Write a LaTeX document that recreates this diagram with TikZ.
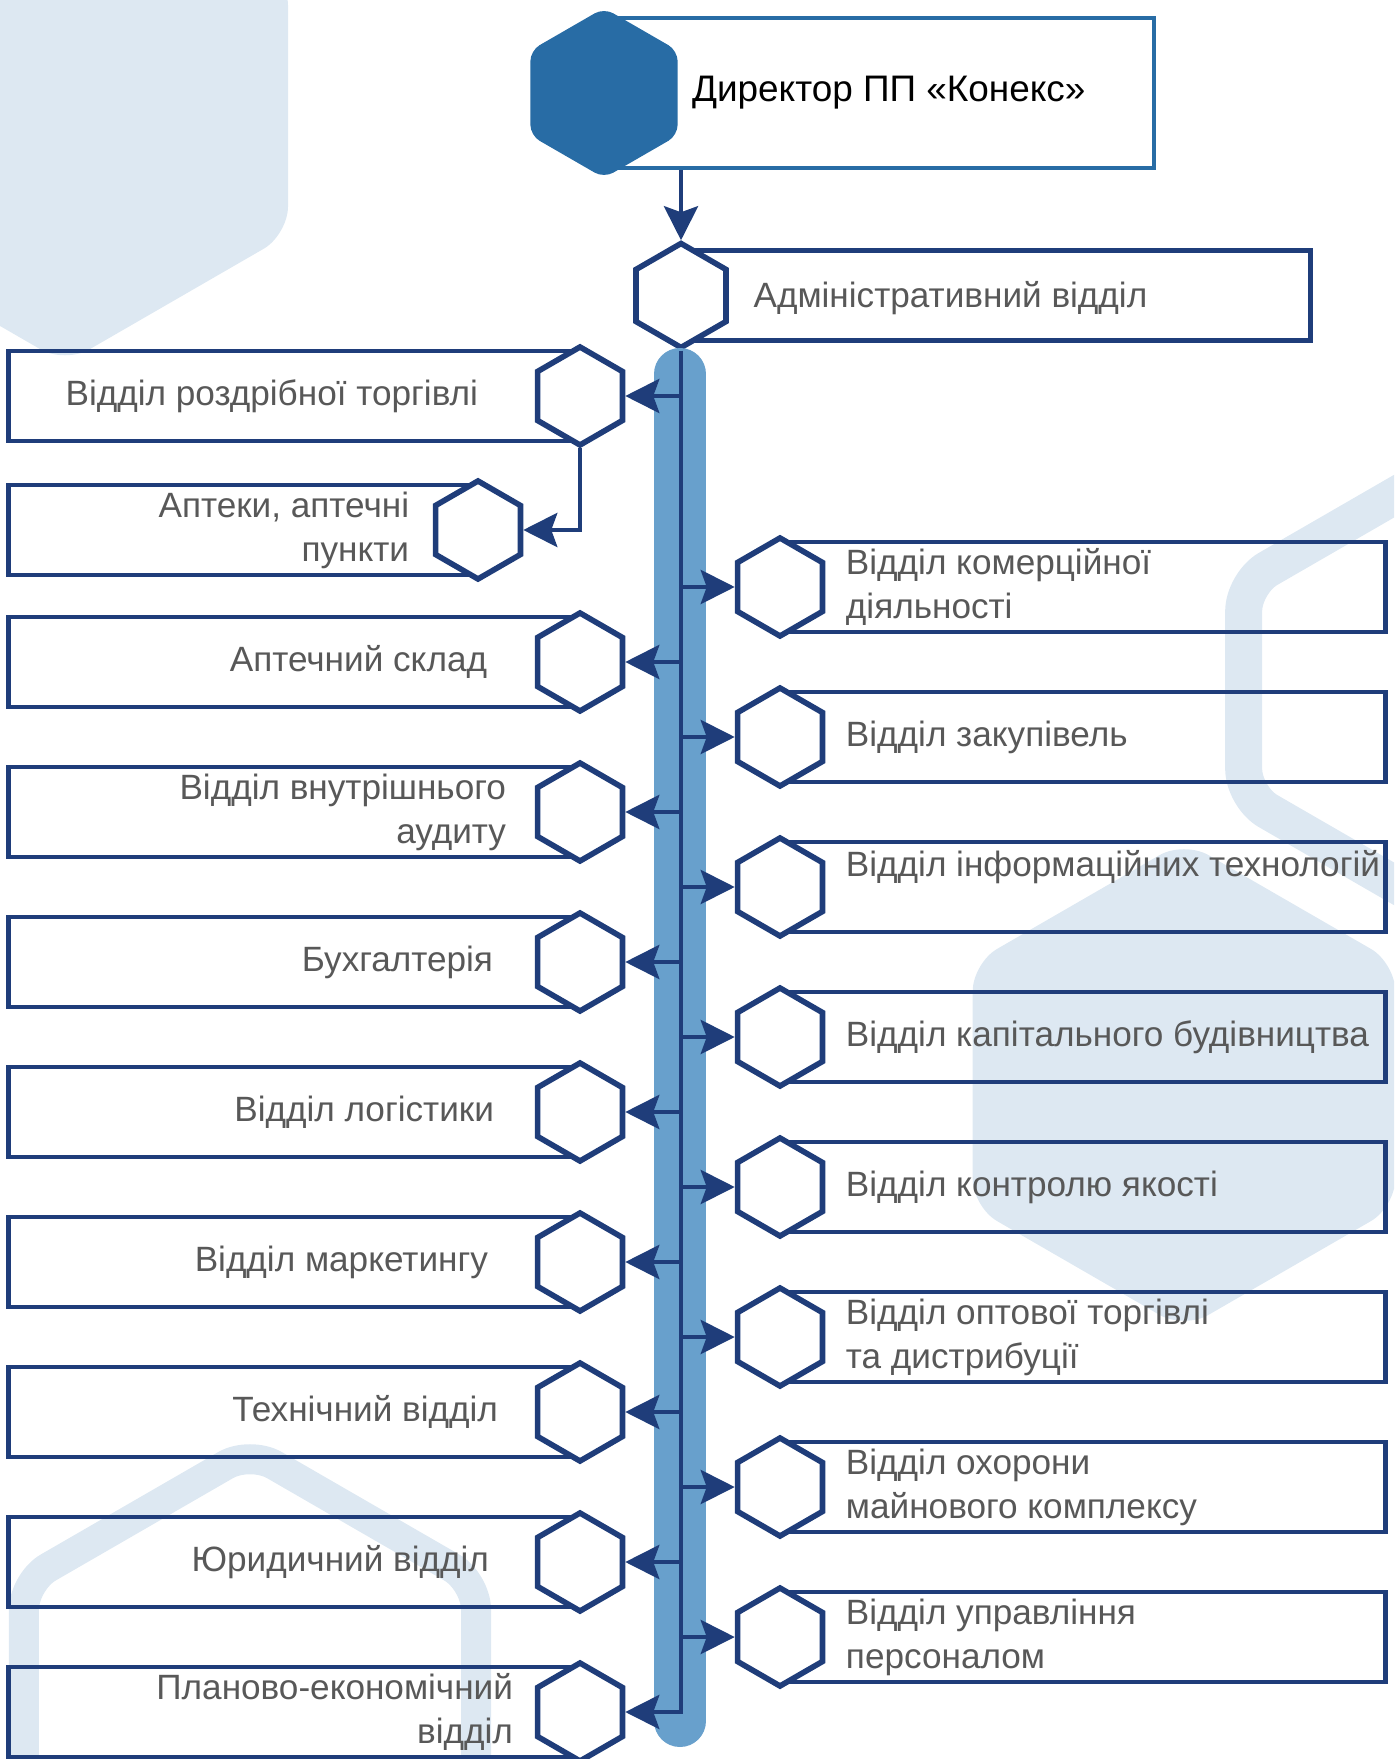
\documentclass[tikz,border=0pt]{standalone}
\usepackage{fontspec}
\setmainfont{Liberation Sans}
\usetikzlibrary{shapes.geometric,arrows.meta}

\definecolor{navy}{RGB}{31,61,122}
\definecolor{dirblue}{RGB}{40,108,165}
\definecolor{spineblue}{RGB}{104,160,204}
\definecolor{bgblue}{RGB}{221,232,242}
\definecolor{txtgray}{RGB}{88,88,88}

\tikzset{
  deptbox/.style={draw=navy, line width=1.4pt, minimum height=0.90cm, inner sep=0pt},
  hexa/.style={regular polygon, regular polygon sides=6, shape border rotate=30,
    draw=navy, fill=white, line width=1.6pt, minimum size=0.98cm, inner sep=0pt},
  bghex/.style={regular polygon, regular polygon sides=6, shape border rotate=30,
    inner sep=0pt, rounded corners=8pt},
  tolink/.style={navy, line width=1.3pt, -{Stealth[length=0.34cm,width=0.34cm,inset=0.06cm]}},
  deptext/.style={text=txtgray, inner sep=0pt, font=\fontsize{10}{12.5}\selectfont},
  ltext/.style={deptext, align=right},
  rtext/.style={deptext, align=left},
  spine/.style={spineblue, line width=0.52cm, line cap=round},
}

\begin{document}
\begin{tikzpicture}
    \useasboundingbox (0,0) rectangle (13.94,-17.59);
    \clip (0,0) rectangle (13.94,-17.59);

    % Background hexagons
    \node[bghex, fill=bgblue, minimum size=5.15cm] (bgtl) at (0.65,-1.06) {};
    \node[bghex, fill=bgblue, minimum size=4.88cm] (bgmid) at (11.84,-10.85) {};
    \node[bghex, draw=bgblue, line width=0.37cm, minimum size=4.28cm] (bgring) at (14.29,-6.90) {};
    \node[bghex, draw=bgblue, line width=0.30cm, minimum size=5.22cm] (bgarch) at (2.50,-17.12) {};

    % Director
    \node[draw=dirblue, line width=1.1pt, minimum width=5.49cm, minimum height=1.50cm,
      anchor=west, inner sep=0pt] (dir) at (6.03,-0.93) {};
    \node[bghex, fill=dirblue, minimum size=1.70cm, rounded corners=3pt] (dirh) at (6.04,-0.93) {};
    \node at (dirh.0) [right=0.13cm, inner sep=0pt, font=\fontsize{10.5}{13}\selectfont] (dirt)
      {Директор ПП «Конекс»};

    % Administrative department
    \node[deptbox, minimum width=6.27cm, anchor=west] (adm) at (6.81,-2.955) {};
    \node[hexa, minimum size=1.04cm] (admh) at (adm.west) {};
    \node at (admh.0) [right=0.24cm, yshift=-0.03cm, rtext] (admt) {Адміністративний відділ};
    \draw[tolink] (admh.90 |- dir.south) -- (admh.90);

    % Spine
    \draw[spine] (6.80,-3.74) -- (6.80,-17.21);

    % Left departments
    \node[deptbox, minimum width=5.69cm, anchor=east] (rt) at (5.80,-3.96) {};
    \node[hexa] (rth) at (rt.east) {};
    \node at (rth.180) [left=0.56cm, ltext] (rtt) {Відділ роздрібної торгівлі};

    \node[deptbox, minimum width=4.67cm, anchor=east] (apt) at (4.78,-5.30) {};
    \node[hexa] (apth) at (apt.east) {};
    \node at (apth.180) [left=0.23cm, ltext] (aptt) {Аптеки, аптечні\\пункти};

    \node[deptbox, minimum width=5.69cm, anchor=east] (skl) at (5.80,-6.62) {};
    \node[hexa] (sklh) at (skl.east) {};
    \node at (sklh.180) [left=0.47cm, ltext] (sklt) {Аптечний склад};

    \node[deptbox, minimum width=5.69cm, anchor=east] (aud) at (5.80,-8.12) {};
    \node[hexa] (audh) at (aud.east) {};
    \node at (audh.180) [left=0.28cm, ltext] (audt) {Відділ внутрішнього\\аудиту};

    \node[deptbox, minimum width=5.69cm, anchor=east] (buh) at (5.80,-9.62) {};
    \node[hexa] (buhh) at (buh.east) {};
    \node at (buhh.180) [left=0.41cm, ltext] (buht) {Бухгалтерія};

    \node[deptbox, minimum width=5.69cm, anchor=east] (log) at (5.80,-11.12) {};
    \node[hexa] (logh) at (log.east) {};
    \node at (logh.180) [left=0.40cm, ltext] (logt) {Відділ логістики};

    \node[deptbox, minimum width=5.69cm, anchor=east] (mkt) at (5.80,-12.62) {};
    \node[hexa] (mkth) at (mkt.east) {};
    \node at (mkth.180) [left=0.46cm, ltext] (mktt) {Відділ маркетингу};

    \node[deptbox, minimum width=5.69cm, anchor=east] (tech) at (5.80,-14.12) {};
    \node[hexa] (techh) at (tech.east) {};
    \node at (techh.180) [left=0.36cm, ltext] (techt) {Технічний відділ};

    \node[deptbox, minimum width=5.69cm, anchor=east] (yur) at (5.80,-15.62) {};
    \node[hexa] (yurh) at (yur.east) {};
    \node at (yurh.180) [left=0.45cm, ltext] (yurt) {Юридичний відділ};

    \node[deptbox, minimum width=5.69cm, anchor=east] (pe) at (5.80,-17.12) {};
    \node[hexa] (peh) at (pe.east) {};
    \node at (peh.180) [left=0.21cm, ltext] (pet) {Планово-економічний\\відділ};

    % Right departments
    \node[deptbox, minimum width=6.03cm, anchor=west] (com) at (7.80,-5.87) {};
    \node[hexa] (comh) at (com.west) {};
    \node at (comh.0) [right=0.20cm, rtext] (comt) {Відділ комерційної\\діяльності};

    \node[deptbox, minimum width=6.03cm, anchor=west] (zak) at (7.80,-7.37) {};
    \node[hexa] (zakh) at (zak.west) {};
    \node at (zakh.0) [right=0.20cm, rtext] (zakt) {Відділ закупівель};

    \node[deptbox, minimum width=6.03cm, anchor=west] (it) at (7.80,-8.87) {};
    \node[hexa] (ith) at (it.west) {};
    \node at (ith.0) [right=0.20cm, yshift=0.20cm, rtext] (itt) {Відділ інформаційних технологій};

    \node[deptbox, minimum width=6.03cm, anchor=west] (kap) at (7.80,-10.37) {};
    \node[hexa] (kaph) at (kap.west) {};
    \node at (kaph.0) [right=0.20cm, rtext] (kapt) {Відділ капітального будівництва};

    \node[deptbox, minimum width=6.03cm, anchor=west] (qc) at (7.80,-11.87) {};
    \node[hexa] (qch) at (qc.west) {};
    \node at (qch.0) [right=0.20cm, rtext] (qct) {Відділ контролю якості};

    \node[deptbox, minimum width=6.03cm, anchor=west] (opt) at (7.80,-13.37) {};
    \node[hexa] (opth) at (opt.west) {};
    \node at (opth.0) [right=0.20cm, rtext] (optt) {Відділ оптової торгівлі\\та дистрибуції};

    \node[deptbox, minimum width=6.03cm, anchor=west] (ohr) at (7.80,-14.87) {};
    \node[hexa] (ohrh) at (ohr.west) {};
    \node at (ohrh.0) [right=0.20cm, rtext] (ohrt) {Відділ охорони\\майнового комплексу};

    \node[deptbox, minimum width=6.03cm, anchor=west] (hr) at (7.80,-16.37) {};
    \node[hexa] (hrh) at (hr.west) {};
    \node at (hrh.0) [right=0.20cm, rtext] (hrt) {Відділ управління\\персоналом};

    % Arrows from the spine
    \draw[tolink] (admh.270) |- (peh.0);
    \draw[tolink] (admh.270 |- rth.0) -- (rth.0);
    \draw[tolink] (rth.270) |- (apth.0);
    \draw[tolink] (admh.270 |- sklh.0) -- (sklh.0);
    \draw[tolink] (admh.270 |- audh.0) -- (audh.0);
    \draw[tolink] (admh.270 |- buhh.0) -- (buhh.0);
    \draw[tolink] (admh.270 |- logh.0) -- (logh.0);
    \draw[tolink] (admh.270 |- mkth.0) -- (mkth.0);
    \draw[tolink] (admh.270 |- techh.0) -- (techh.0);
    \draw[tolink] (admh.270 |- yurh.0) -- (yurh.0);
    \draw[tolink] (admh.270 |- comh.180) -- (comh.180);
    \draw[tolink] (admh.270 |- zakh.180) -- (zakh.180);
    \draw[tolink] (admh.270 |- ith.180) -- (ith.180);
    \draw[tolink] (admh.270 |- kaph.180) -- (kaph.180);
    \draw[tolink] (admh.270 |- qch.180) -- (qch.180);
    \draw[tolink] (admh.270 |- opth.180) -- (opth.180);
    \draw[tolink] (admh.270 |- ohrh.180) -- (ohrh.180);
    \draw[tolink] (admh.270 |- hrh.180) -- (hrh.180);
\end{tikzpicture}
\end{document}
